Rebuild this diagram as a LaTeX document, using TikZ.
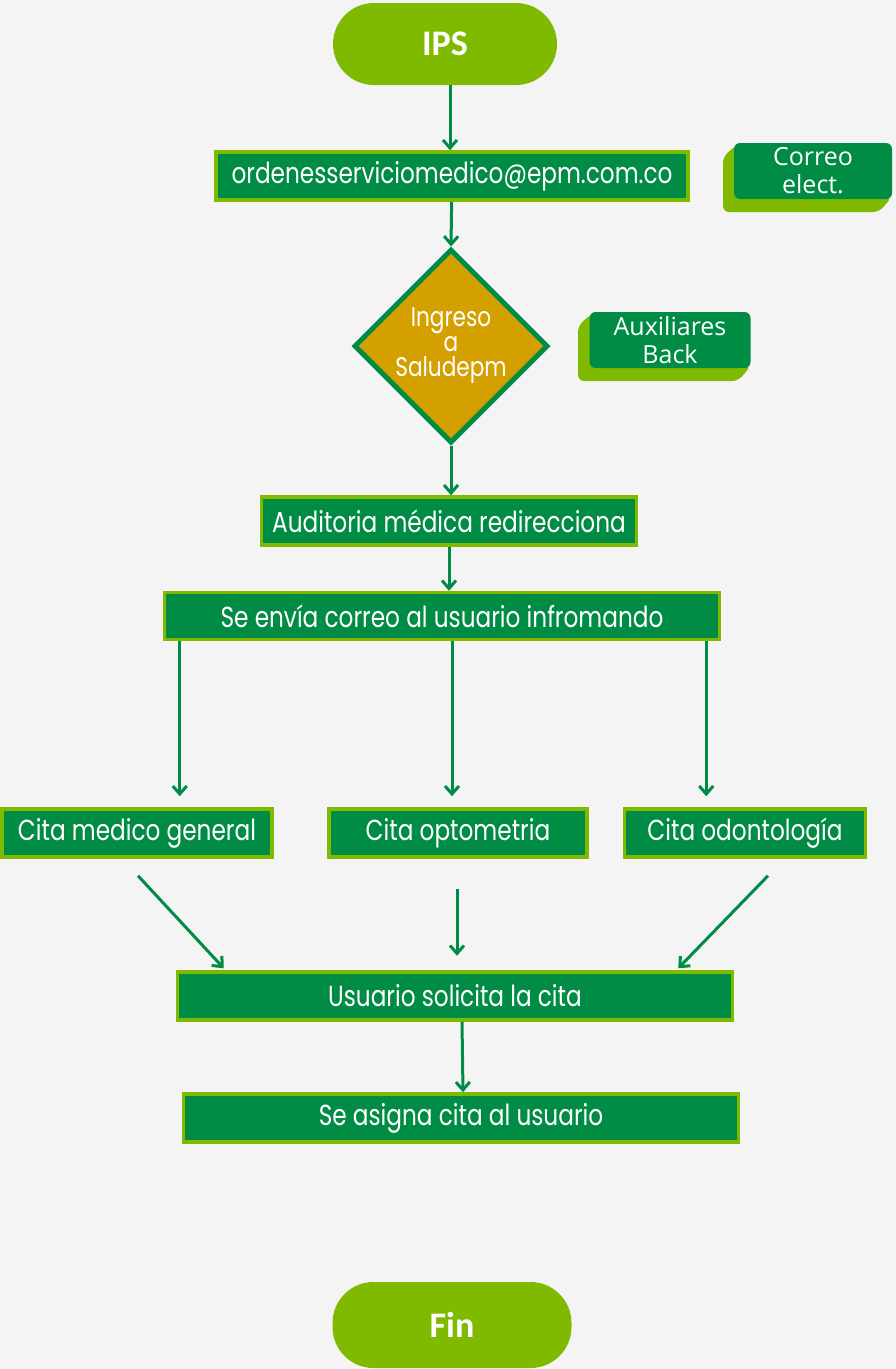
\documentclass[tikz,border=0pt]{standalone}
\usepackage{fontspec}
\setmainfont{Poppins}[FakeStretch=0.8]
\newfontfamily\titlefont{Carlito}
\newfontfamily\notefont{Open Sans}
\usepackage{tikz}
\usetikzlibrary{positioning}
\usetikzlibrary{calc}
\usetikzlibrary{shapes.geometric}
\usetikzlibrary{arrows.meta}
\definecolor{epmgreen}{RGB}{0,140,69}
\definecolor{epmlime}{RGB}{128,186,0}
\definecolor{epmgold}{RGB}{212,160,0}
\definecolor{bggray}{RGB}{244,244,244}
\tikzset{
	paso/.style={
		draw=epmlime, line width=3.5pt, fill=epmgreen, text=white,
		minimum height=48pt, inner sep=0pt,
		font=\fontsize{29}{31}\selectfont
	},
	terminal/.style={
		fill=epmlime, text=white, rounded corners=41pt,
		minimum width=224pt, minimum height=82pt, inner sep=0pt,
		font=\titlefont\bfseries\fontsize{36}{38}\selectfont
	},
	decision/.style={
		diamond, aspect=1, draw=epmgreen, line width=5pt, fill=epmgold,
		text=white, minimum size=194pt, inner sep=0pt, align=center,
		font=\fontsize{27}{25}\selectfont
	},
	nota/.style={
		fill=epmgreen, text=white, rounded corners=6pt, align=center,
		minimum width=158pt, minimum height=56pt, inner sep=0pt,
		font=\notefont\fontsize{25}{28}\selectfont
	},
	nota fondo/.style={
		fill=epmlime, rounded corners=6pt
	},
	flecha/.style={
		draw=epmgreen, line width=3pt,
		-{Straight Barb[length=8pt,width=14pt,line width=3pt]}
	}
}

\begin{document}
\begin{tikzpicture}[x=1pt,y=-1pt]
    \fill[bggray] (0,0) rectangle (896,1369);
    \useasboundingbox (0,0) rectangle (896,1369);

    \node[terminal] (IPS) at (445,44) {IPS};
    \node[paso, minimum width=472pt] (Correo) at (452,176) {ordenesserviciomedico@epm.com.co};
    \node[decision] (Ingreso) at (451,346) {Ingreso\\a\\Saludepm};
    \node[paso, minimum width=375pt] (Auditoria) at (449,521) {Auditoria médica redirecciona};
    \node[paso, minimum width=555pt, minimum height=47pt] (Envio) at (442,616) {Se envía correo al usuario infromando};

    \node[paso, minimum width=270pt] (General) at (137,833) {Cita medico general};
    \node[paso, minimum width=258pt] (Optometria) at (458,833) {Cita optometria};
    \node[paso, minimum width=241pt] (Odontologia) at (745,833) {Cita odontología};

    \node[paso, minimum width=555pt] (Solicita) at (455,996) {Usuario solicita la cita};
    \node[paso, minimum width=555pt] (Asigna) at (461,1118) {Se asigna cita al usuario};
    \node[terminal, minimum width=239pt, minimum height=86pt] (Fin) at (452,1325) {Fin};

    % notas laterales
    \path (813,171) coordinate (Elect) (670,340) coordinate (Back);
    \fill[nota fondo] ($(Elect)+(-77,-26)$) -- ++(-13,12) |- ($(Elect)+(66,41)$) -- ($(Elect)+(79,26)$) -- cycle;
    \fill[nota fondo] ($(Back)+(-79,-26)$) -- ++(-13,12) |- ($(Back)+(68,41)$) -- ($(Back)+(81,26)$) -- cycle;
    \node[nota] (Elect) at (Elect) {Correo\\elect.};
    \node[nota, minimum width=161pt] (Back) at (Back) {Auxiliares\\Back};

    \coordinate (G1) at ($(Envio.south west)+(17,0)$);
    \coordinate (G2) at ($(General.north)+(45,-11)$);
    \coordinate (O1) at ($(Envio.south)+(10,0)$);
    \coordinate (O2) at ($(Optometria.north)+(-6,-11)$);
    \coordinate (D1) at ($(Envio.south east)+(-15,0)$);
    \coordinate (D2) at ($(Odontologia.north)+(-40,-11)$);
    \coordinate (GS) at ($(General.south)+(1,17)$);
    \coordinate (GE) at ($(Solicita.north west)+(48,-2)$);
    \coordinate (OS) at ($(Optometria.south)+(-1,30)$);
    \coordinate (OE) at ($(Optometria.south)+(-1,97)$);
    \coordinate (DS) at ($(Odontologia.south)+(23,17)$);
    \coordinate (DE) at ($(Solicita.north east)+(-56,-2)$);

    \draw[flecha] (IPS.south -| Correo) ++(-2,0) -- ([xshift=-2pt]Correo.north);
    \draw[flecha] (Correo) -- (Ingreso.north);
    \draw[flecha] (Ingreso) -- (Auditoria.north -| Ingreso);
    \draw[flecha] (Auditoria) -- (Envio.north -| Auditoria);
    \draw[flecha] (G1) -- (G1 |- G2);
    \draw[flecha] (O1) -- (O1 |- O2);
    \draw[flecha] (D1) -- (D1 |- D2);
    \draw[flecha] (GS) -- (GE);
    \draw[flecha] (OS) -- (OE);
    \draw[flecha] (DS) -- (DE);
    \draw[flecha] ([xshift=7pt]Solicita.south) -- ([xshift=2pt]Asigna.north);
\end{tikzpicture}
\end{document}
